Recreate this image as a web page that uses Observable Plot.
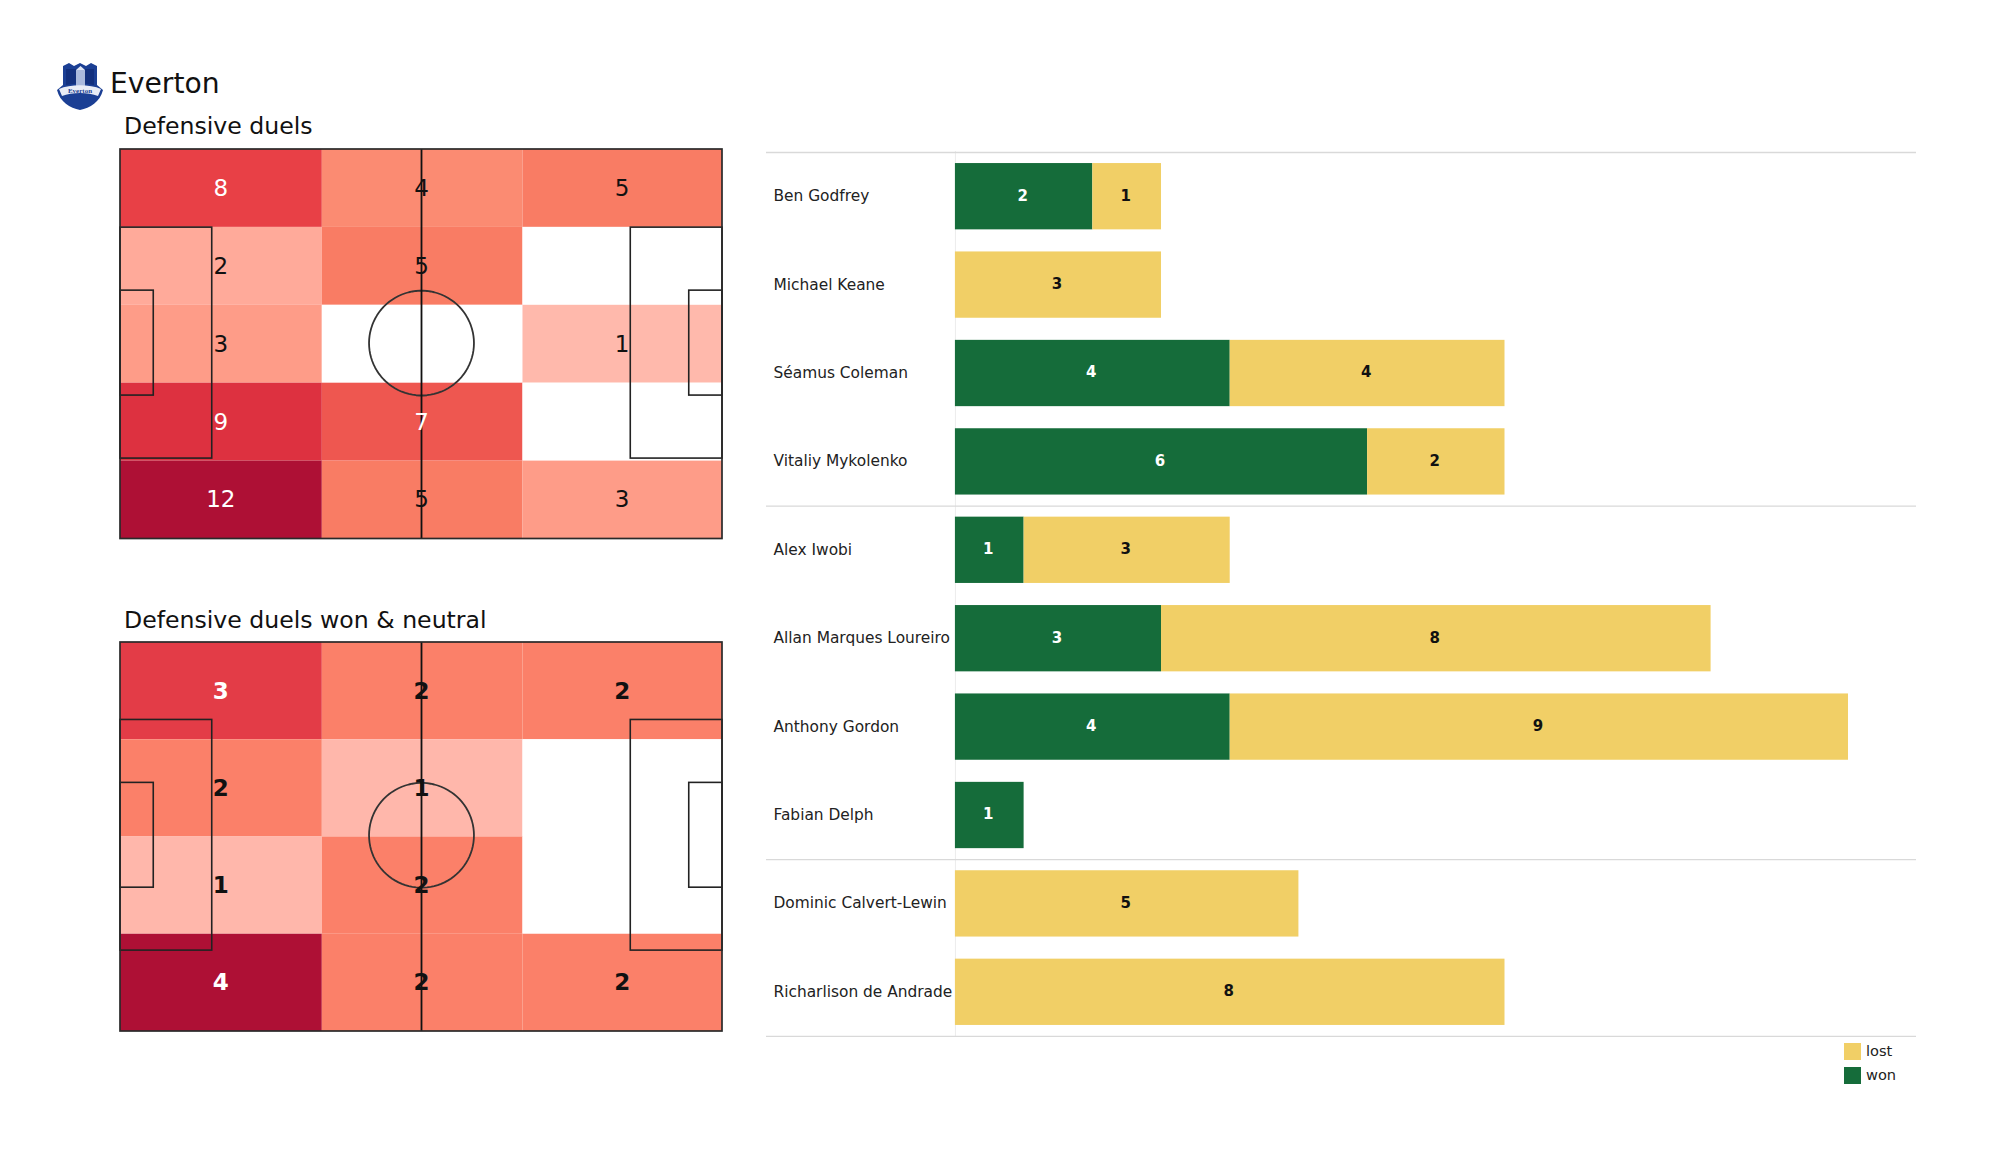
<!DOCTYPE html>
<html>
<head>
<meta charset="utf-8">
<script src="https://cdn.jsdelivr.net/npm/d3@7"></script>
<script src="https://cdn.jsdelivr.net/npm/@observablehq/plot@0.6"></script>
<style>
html,body{margin:0;padding:0;background:#fff;width:2000px;height:1175px;overflow:hidden;font-family:"DejaVu Sans",sans-serif;color:#111}
.abs{position:absolute;white-space:nowrap}
svg{background:transparent !important;max-width:none !important}
</style>
</head>
<body>
<div id="root" style="position:relative;width:2000px;height:1175px"></div>
<script>
const teamName = "Everton";
const titleAll = "Defensive duels";
const titleWon = "Defensive duels won & neutral";

const duelsAll = [[8,4,5],[2,5,0],[3,0,1],[9,7,0],[12,5,3]];
const duelsWon = [[3,2,2],[2,1,0],[1,2,0],[4,2,2]];

const colorsAllDomain = [0,1,2,3,4,5,7,8,9,12];
const colorsAllRange = ["#ffffff","#ffb9ac","#ffaa9a","#fe9c88","#fb8b72","#f97c64","#ee5750","#e84046","#dd3140","#ae1035"];
const colorsWonDomain = [0,1,2,3,4];
const colorsWonRange = ["#ffffff","#ffb7ab","#fb8069","#e33c47","#ae1035"];

const players = ["Ben Godfrey","Michael Keane","Séamus Coleman","Vitaliy Mykolenko","Alex Iwobi","Allan Marques Loureiro","Anthony Gordon","Fabian Delph","Dominic Calvert-Lewin","Richarlison de Andrade"];
const won  = [2,0,4,6,1,3,4,1,0,0];
const lost = [1,3,4,2,3,8,9,0,5,8];
const groupTops = ["Ben Godfrey","Alex Iwobi","Dominic Calvert-Lewin"];
const lastPlayer = "Richarlison de Andrade";
const kinds = ["won","lost"];
const kindColors = ["#156c3a","#f1cf66"];

const root = document.getElementById("root");
function place(node,left,top){node.style.position="absolute";node.style.left=left+"px";node.style.top=top+"px";root.appendChild(node);}
function label(txt,left,top,size){const d=document.createElement("div");d.className="abs";d.textContent=txt;d.style.left=left+"px";d.style.top=top+"px";d.style.fontSize=size+"px";d.style.lineHeight="1";root.appendChild(d);return d;}

// crest
const crest=document.createElement("div");
crest.innerHTML=`<svg width="48" height="50" viewBox="0 0 48 50" xmlns="http://www.w3.org/2000/svg">
<path d="M7 5 L13 2 L18 5 L24 2 L30 5 L35 2 L41 5 L41 24 L47 29 C44 41 34 47 24 49 C14 47 4 41 1 29 L7 24 Z" fill="#1b3f94"/>
<path d="M10 8 L38 8 L38 24 L24 22 L10 24 Z" fill="#12307e"/>
<rect x="20" y="9" width="9" height="16" fill="#a9b9dd"/>
<path d="M20 9 L24.5 5 L29 9 Z" fill="#dfe5f3"/>
<path d="M3 28 C14 23 34 23 45 28 L42 35 C32 31 16 31 6 35 Z" fill="#e8ecf6"/>
<text x="24" y="32" font-size="7" font-family="Liberation Serif" font-weight="bold" text-anchor="middle" fill="#1b3f94">Everton</text>
</svg>`;
place(crest,56,61);

label(teamName,110,70,28.2);
label(titleAll,124,114.5,23.6);
label(titleWon,124,608.5,23.6);

// Pitch panels
const xEdges=[0,35.2,70.2,105];
const xCentres=[17.5,52.5,87.5];
function pitch(rows,domain,range,bold,whiteFrom,yRange,shift){
  const rowH=68/rows.length;
  const cells=rows.flatMap((r,i)=>r.map((v,j)=>({v,x1:xEdges[j],x2:xEdges[j+1],xc:xCentres[j],y1:i*rowH,y2:(i+1)*rowH})));
  const boxes=[
    {x1:0,x2:16,y1:13.84-shift,y2:54.16-shift},{x1:89,x2:105,y1:13.84-shift,y2:54.16-shift},
    {x1:0,x2:5.8,y1:24.84-shift,y2:43.16-shift},{x1:99.2,x2:105,y1:24.84-shift,y2:43.16-shift}
  ];
  const circle=d3.range(0,361,4).map(a=>({x:52.5+9.15*Math.cos(a*Math.PI/180),y:34-shift+9.15*Math.sin(a*Math.PI/180)}));
  return Plot.plot({
    width:606,height:396,margin:0,
    x:{domain:[0,105],range:[2,604],axis:null},
    y:{domain:[0,68],range:yRange,axis:null},
    color:{type:"ordinal",domain,range},
    marks:[
      Plot.rect(cells,{x1:"x1",x2:"x2",y1:"y1",y2:"y2",fill:"v",inset:0}),
      Plot.rect(boxes,{x1:"x1",x2:"x2",y1:"y1",y2:"y2",fill:"none",stroke:"#222",strokeWidth:1.6}),
      Plot.line(circle,{x:"x",y:"y",stroke:"#333",strokeWidth:1.8}),
      Plot.ruleX([52.5],{y1:0,y2:68,stroke:"#111",strokeWidth:1.8}),
      Plot.rect([{x1:0,x2:105,y1:0,y2:68}],{x1:"x1",x2:"x2",y1:"y1",y2:"y2",fill:"none",stroke:"#2a2a2a",strokeWidth:1.7}),
      Plot.text(cells.filter(d=>d.v>0),{
        x:"xc",y:d=>(d.y1+d.y2)/2,text:"v",
        fontSize:23,fontFamily:"DejaVu Sans",fontWeight:bold?"bold":"normal",
        fill:d=>d.v>=whiteFrom?"#fff":"#111",stroke:"none"
      })
    ]
  });
}
place(pitch(duelsAll,colorsAllDomain,colorsAllRange,false,7,[3,392.5],0.2),118,146);
place(pitch(duelsWon,colorsWonDomain,colorsWonRange,true,3,[2,391],0.3),118,640);

// Bars
const long=players.flatMap((p,i)=>[{player:p,kind:"won",value:won[i]},{player:p,kind:"lost",value:lost[i]}]).filter(d=>d.value>0);
const stackOpts={x:"value",y:"player",order:kinds};
const bars=Plot.plot({
  width:1150,height:886,margin:0,
  x:{domain:[-2.75,13.99],range:[0,1150],axis:null},
  y:{domain:players,range:[1,885],paddingInner:0.25,paddingOuter:0.125,align:0.5,round:false,axis:null},
  color:{type:"ordinal",domain:kinds,range:kindColors},
  marks:[
    Plot.ruleX([0],{stroke:"#ececec",strokeWidth:1}),
    Plot.ruleY(groupTops,{y:d=>d,dy:-44.2,stroke:"#d9d9d9",strokeWidth:1.3}),
    Plot.ruleY([lastPlayer],{y:d=>d,dy:44.2,stroke:"#d9d9d9",strokeWidth:1.3}),
    Plot.barX(long,Plot.stackX({...stackOpts,fill:"kind"})),
    Plot.text(long,Plot.stackX({...stackOpts,text:"value",fontSize:15,fontWeight:"bold",fontFamily:"DejaVu Sans",dy:-1,dx:-1.5,
      fill:d=>d.kind==="won"?"#fff":"#111",stroke:"none"})),
    Plot.text(players,{y:d=>d,text:d=>d,frameAnchor:"left",dx:7,dy:-0.5,textAnchor:"start",fontSize:15.4,fontFamily:"DejaVu Sans",fill:"#222"})
  ]
});
place(bars,766,151);

// Legend
[["lost",kindColors[1],1043],["won",kindColors[0],1067]].forEach(([t,c,y])=>{
  const s=document.createElement("div");
  s.style.cssText=`position:absolute;left:1844px;top:${y}px;width:17px;height:17px;background:${c}`;
  root.appendChild(s);
  label(t,1866,y+1,14.6).style.color="#222";
});
</script>
</body>
</html>
